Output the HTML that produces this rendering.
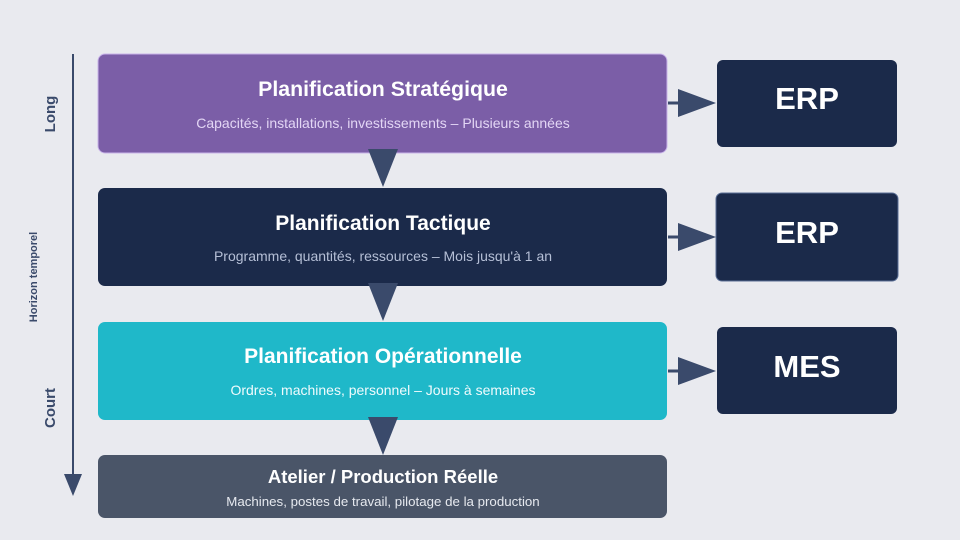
<!DOCTYPE html>
<html><head><meta charset="utf-8"><style>
html,body{margin:0;padding:0;background:#e9eaef;}
svg{display:block;font-family:"Liberation Sans",sans-serif;}
</style></head><body>
<svg width="960" height="540" viewBox="0 0 960 540" xmlns="http://www.w3.org/2000/svg">
<rect width="960" height="540" fill="#e9eaef"/>
<line x1="73" y1="54" x2="73" y2="476" stroke="#3a4a6b" stroke-width="2"/>
<polygon points="64,474 82,474 73,496" fill="#3a4a6b"/>
<text transform="translate(55,114) rotate(-90)" text-anchor="middle" font-size="15" font-weight="bold" fill="#3a4a6b">Long</text>
<text transform="translate(37,277) rotate(-90)" text-anchor="middle" font-size="11" font-weight="bold" fill="#3a4a6b">Horizon temporel</text>
<text transform="translate(55,408) rotate(-90)" text-anchor="middle" font-size="15" font-weight="bold" fill="#3a4a6b">Court</text>

<rect x="98" y="54" width="569" height="99" rx="7" fill="#7b5ea7" stroke="#c9b4ea" stroke-width="1"/>
<text x="383" y="96" text-anchor="middle" font-size="21.3" font-weight="bold" fill="#fff">Planification Stratégique</text>
<text x="383" y="128" text-anchor="middle" font-size="14" fill="#e3d6f5">Capacités, installations, investissements – Plusieurs années</text>

<rect x="98" y="188" width="569" height="98" rx="7" fill="#1b2a4a"/>
<text x="383" y="230" text-anchor="middle" font-size="21" font-weight="bold" fill="#fff">Planification Tactique</text>
<text x="383" y="261" text-anchor="middle" font-size="14" fill="#b5bfd6">Programme, quantités, ressources – Mois jusqu'à 1 an</text>

<rect x="98" y="322" width="569" height="98" rx="7" fill="#1fb8c9"/>
<text x="383" y="363" text-anchor="middle" font-size="21" font-weight="bold" fill="#fff">Planification Opérationnelle</text>
<text x="383" y="395" text-anchor="middle" font-size="14" fill="#f0fbfd">Ordres, machines, personnel – Jours à semaines</text>

<rect x="98" y="455" width="569" height="63" rx="7" fill="#4a5568"/>
<text x="383" y="483" text-anchor="middle" font-size="18.5" font-weight="bold" fill="#fff">Atelier / Production Réelle</text>
<text x="383" y="506" text-anchor="middle" font-size="13.3" fill="#e6e9ef">Machines, postes de travail, pilotage de la production</text>

<polygon points="368,149 398,149 383,187" fill="#3a4a6b"/>
<polygon points="368,283 398,283 383,321" fill="#3a4a6b"/>
<polygon points="368,417 398,417 383,455" fill="#3a4a6b"/>

<rect x="717" y="60" width="180" height="87" rx="6" fill="#1b2a4a"/>
<text x="807" y="109" text-anchor="middle" font-size="31" font-weight="bold" fill="#fff">ERP</text>
<rect x="716" y="193" width="182" height="88" rx="6" fill="#1b2a4a" stroke="#5a6f96" stroke-width="1"/>
<text x="807" y="243" text-anchor="middle" font-size="31" font-weight="bold" fill="#fff">ERP</text>
<rect x="717" y="327" width="180" height="87" rx="6" fill="#1b2a4a"/>
<text x="807" y="377" text-anchor="middle" font-size="31" font-weight="bold" fill="#fff">MES</text>

<g fill="#3a4a6b" stroke="#3a4a6b">
<line x1="668" y1="103" x2="682" y2="103" stroke-width="3"/>
<polygon points="678,89 716,103 678,117" stroke="none"/>
<line x1="668" y1="237" x2="682" y2="237" stroke-width="3"/>
<polygon points="678,223 716,237 678,251" stroke="none"/>
<line x1="668" y1="371" x2="682" y2="371" stroke-width="3"/>
<polygon points="678,357 716,371 678,385" stroke="none"/>
</g>
</svg>
</body></html>
